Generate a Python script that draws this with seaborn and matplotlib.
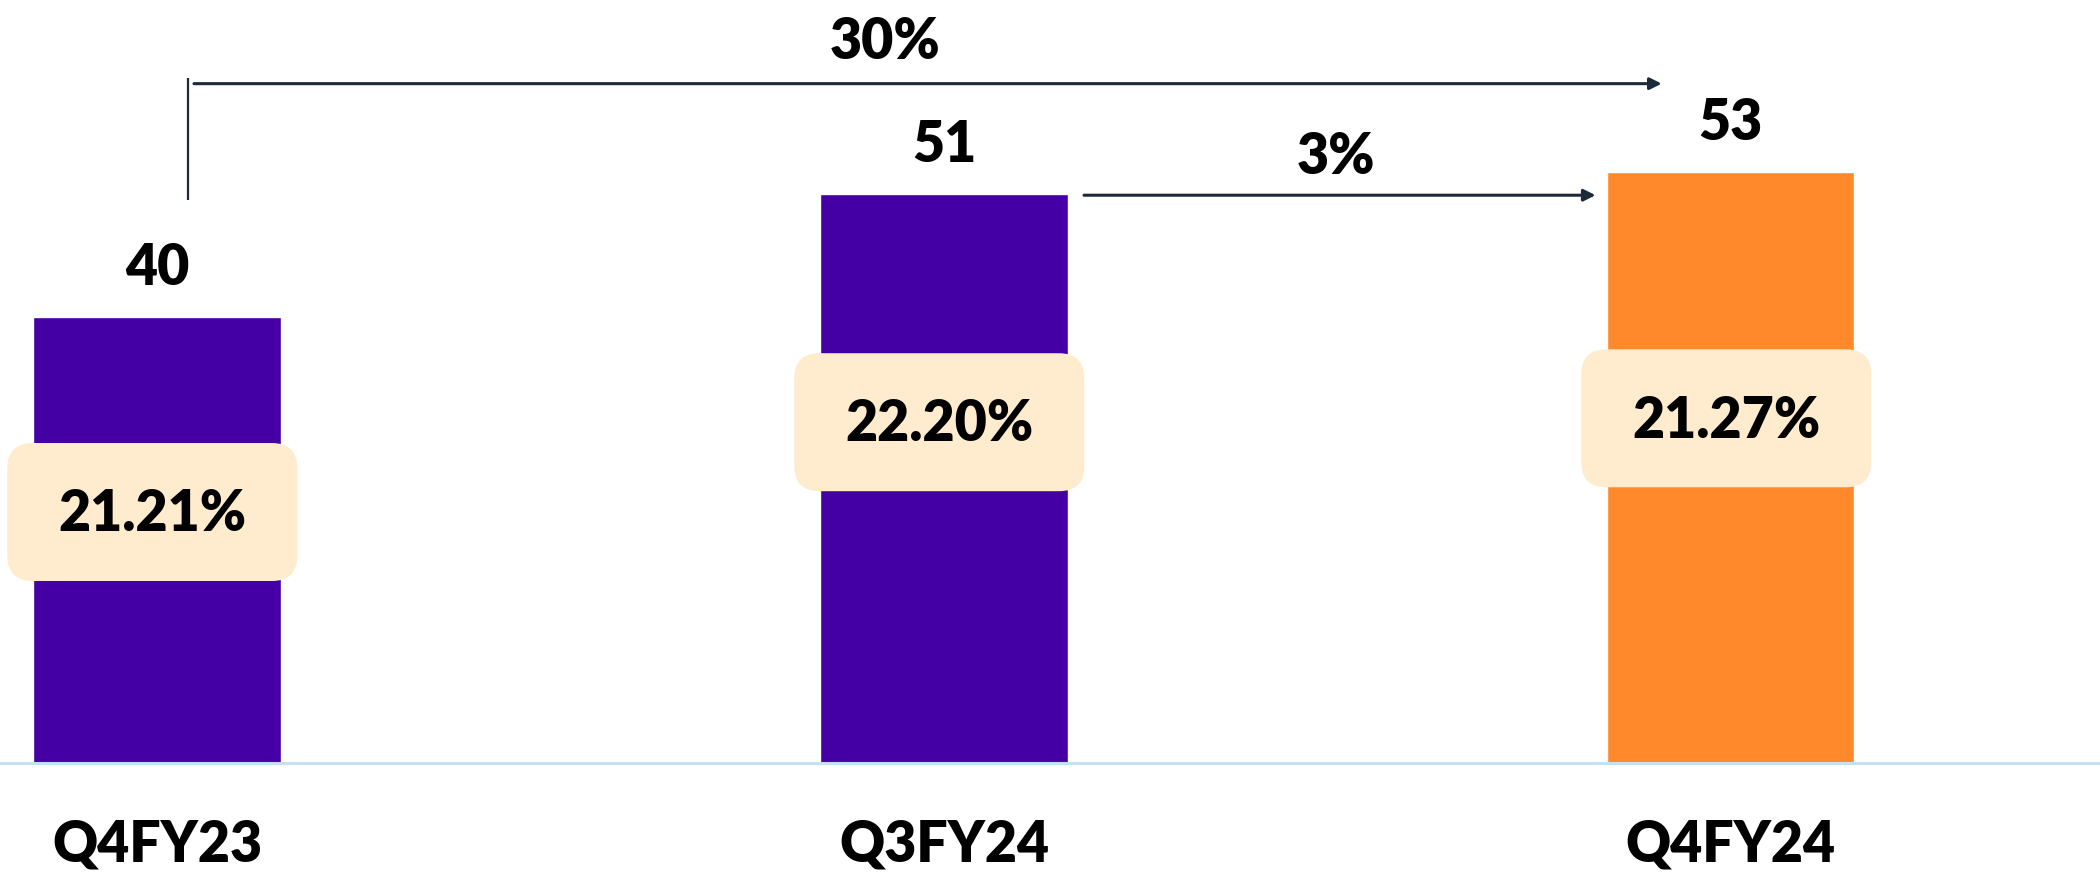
import matplotlib
matplotlib.use("Agg")
import matplotlib.pyplot as plt
from matplotlib.patches import FancyBboxPatch
import seaborn as sns

quarters = ["Q4FY23", "Q3FY24", "Q4FY24"]
values = [40, 51, 53]
margins = ["21.21%", "22.20%", "21.27%"]
bar_colors = ["#4400A5", "#4400A5", "#FF892B"]
growth_labels = ["30%", "3%"]

sns.set_style("white")
plt.rcParams["font.family"] = ["Lato", "DejaVu Sans"]
wt = "heavy"

W, H = 2100, 876
fig = plt.figure(figsize=(W / 100, H / 100), dpi=100)
ax = fig.add_axes([0, 113 / H, 1, 763 / H])

bar_w = 0.314
sns.barplot(x=quarters, y=values, hue=quarters, palette=bar_colors, legend=False,
            width=bar_w, saturation=1, ax=ax)
ax.set_xlim(-0.1995, 2.469)
ax.set_ylim(0, 68.4)
for s in ax.spines.values():
    s.set_visible(False)
ax.set_yticks([])
ax.set_xlabel("")
ax.set_ylabel("")
ax.tick_params(axis="x", length=0, pad=40, colors="black")
for lbl in ax.get_xticklabels():
    lbl.set_fontsize(40)
    lbl.set_fontweight(wt)
    lbl.set_color("black")
ax.axhline(0, color="#C5E0F2", lw=2.2, clip_on=False, zorder=1)

# value labels above bars
for i, v in enumerate(values):
    ax.annotate(str(v), (i, v), xytext=(0, 35), textcoords="offset points",
                ha="center", va="center", fontsize=40, fontweight=wt, color="black")

# margin boxes
box_y = [22.5, 30.55, 30.9]
box_w, box_h = 0.3685, 12.37
aspect = (68.4 / 763) / (2.6685 / 2100)
for i, (m, yc) in enumerate(zip(margins, box_y)):
    patch = FancyBboxPatch((i - 0.006 - box_w / 2, yc - box_h / 2), box_w, box_h,
                           boxstyle="round,pad=0,rounding_size=0.032",
                           mutation_aspect=aspect, fc="#FFEBCD", ec="none", zorder=3)
    ax.add_patch(patch)
    ax.text(i - 0.006, yc - 0.2, m, ha="center", va="center", fontsize=40,
            fontweight=wt, color="black", zorder=4)

arrow_c = "#1B2A3A"
# 30% arrow: Q4FY23 -> Q4FY24
ax.plot([0.039, 0.039], [50.5, 61.4], color=arrow_c, lw=1.6, solid_capstyle="butt")
ax.annotate("", xy=(1.912, 60.9), xytext=(0.047, 60.9),
            arrowprops=dict(arrowstyle="-|>,head_length=0.7,head_width=0.35",
                            color=arrow_c, lw=2.2, shrinkA=0, shrinkB=0))
ax.text(0.925, 64.6, growth_labels[0], ha="center", va="center", fontsize=40,
        fontweight=wt, color="black")

# 3% arrow: Q3FY24 -> Q4FY24
ax.annotate("", xy=(1.828, 50.9), xytext=(1.178, 50.9),
            arrowprops=dict(arrowstyle="-|>,head_length=0.7,head_width=0.35",
                            color=arrow_c, lw=2.2, shrinkA=0, shrinkB=0))
ax.text(1.498, 54.3, growth_labels[1], ha="center", va="center", fontsize=40,
        fontweight=wt, color="black")

fig.savefig("out.png", dpi=100)
